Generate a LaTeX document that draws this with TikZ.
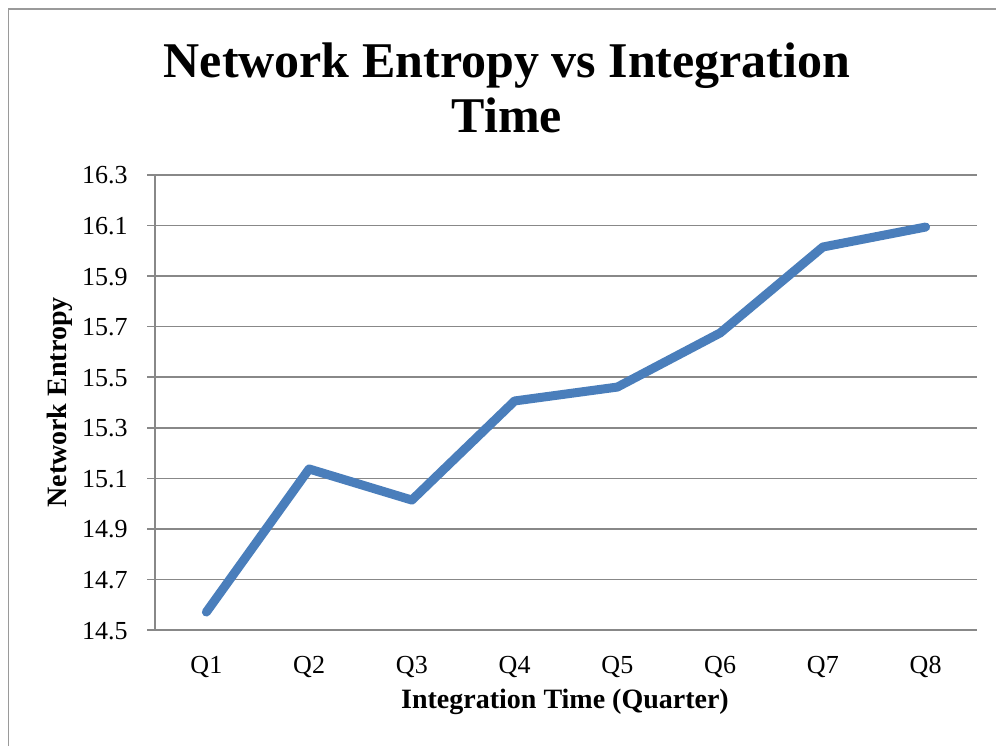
\documentclass[tikz,border=0pt]{standalone}
\usepackage{fontspec}
\setmainfont{Liberation Serif}
\usetikzlibrary{positioning}
\definecolor{entblue}{HTML}{4A7EBB}
\definecolor{gridgray}{HTML}{888888}
\definecolor{framegray}{HTML}{9A9A9A}

\begin{document}
\begin{tikzpicture}[x=0.5pt, y=0.5pt,
    every node/.style={font=\fontsize{13}{15}\selectfont, inner sep=0pt},
    gridline/.style={gridgray, line width=0.75pt},
    axistitle/.style={font=\fontsize{14}{16}\selectfont\bfseries},
  ]
  \useasboundingbox (0,0) rectangle (996,746);
  % chart frame
  \draw[framegray, line width=0.8pt] (8.5,0) -- (8.5,737) -- (996,737);

  \node[font=\fontsize{25}{27.5}\selectfont\bfseries, align=center, anchor=north] (title) at (507,704) {Network Entropy vs Integration\\Time};

  % gridlines and value labels
  \foreach \lab [count=\i from 0] in {14.5,14.7,14.9,15.1,15.3,15.5,15.7,15.9,16.1,16.3} {
    \draw[gridline] (147,116+\i*50.556) -- (977,116+\i*50.556);
    \node[anchor=base east] (val\i) at (128,107+\i*50.556) {\lab};
  }
  \draw[gridline] (155,116) -- (155,571);

  % category labels
  \foreach \q in {1,...,8}
    \node[anchor=base] (cat\q) at (103.625+\q*102.75, 73) {Q\q};

  \node[axistitle, anchor=base] (xtitle) at (565,38) {Integration Time (Quarter)};
  \node[axistitle, anchor=base, rotate=90] (ytitle) at (66,343.5) {Network Entropy};

  % data points
  \begin{scope}[shift={(155,116)}, x=51.375pt, y=126.4pt]
    \foreach \v [count=\q] in {14.571,15.137,15.014,15.406,15.461,15.675,16.015,16.094}
      \coordinate (p\q) at (\q-0.5, \v-14.5);
  \end{scope}
  \draw[entblue, line width=4.5pt, line cap=round, line join=round]
    (p1) -- (p2) -- (p3) -- (p4) -- (p5) -- (p6) -- (p7) -- (p8);
\end{tikzpicture}
\end{document}
